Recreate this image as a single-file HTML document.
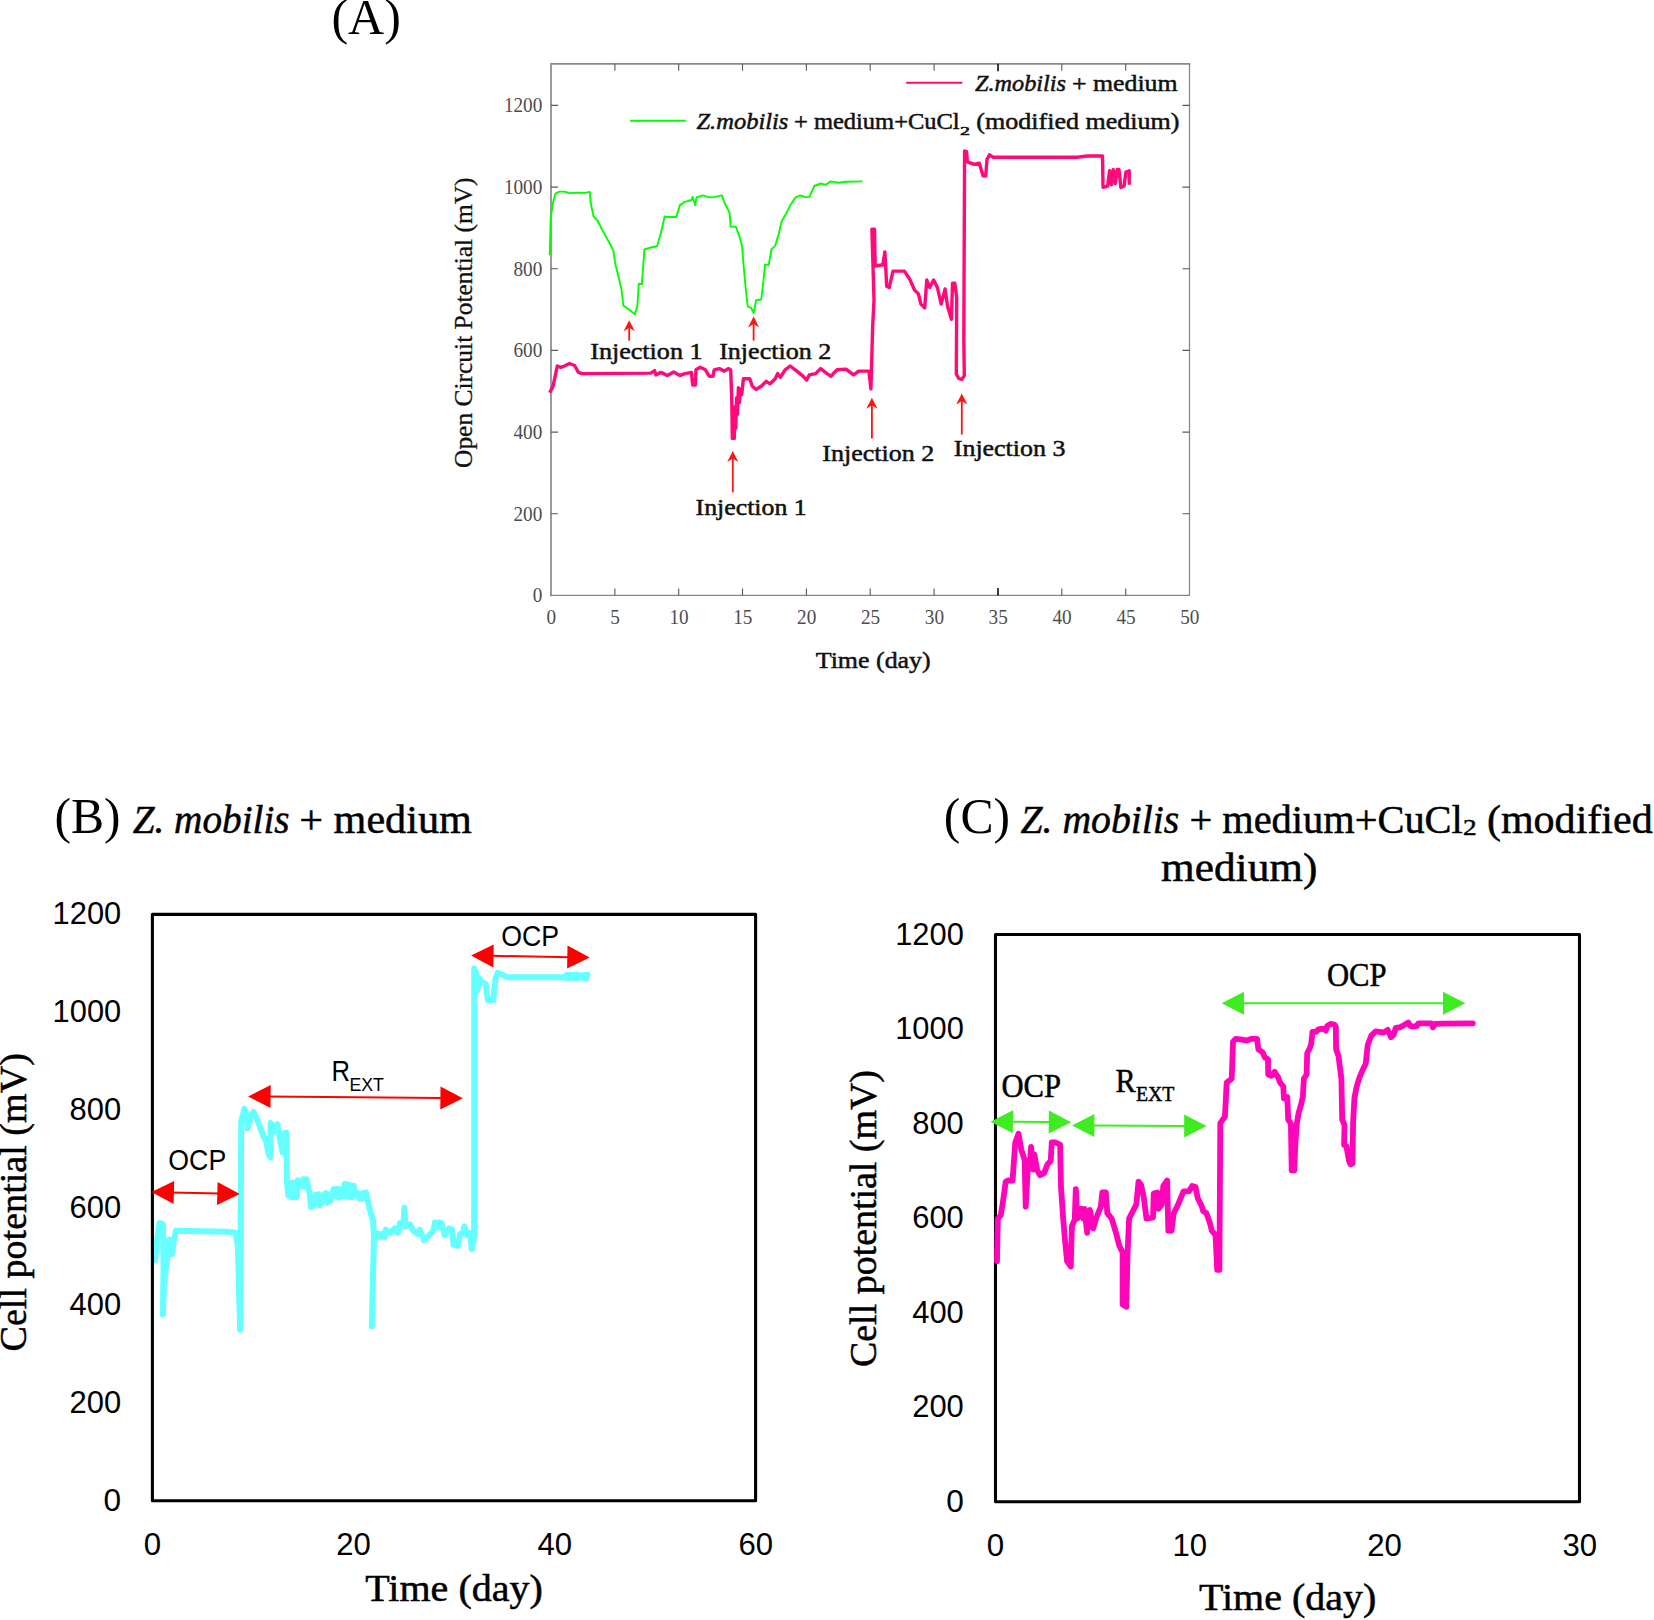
<!DOCTYPE html>
<html lang="en"><head><meta charset="utf-8"><title>Figure</title>
<style>html,body{margin:0;padding:0;background:#fff}svg{display:block}.ser{font-family:"Liberation Serif",serif}.k{stroke:#111;stroke-width:.5px}.k2{stroke:#000;stroke-width:.5px}.k3{stroke:#111;stroke-width:.3px}.san{font-family:"Liberation Sans",sans-serif}</style></head><body>
<svg width="1654" height="1620" viewBox="0 0 1654 1620">
<rect width="1654" height="1620" fill="#fff"/>
<g id="chartA">
<text class="ser" x="331.4" y="34.3" font-size="50" text-anchor="start" fill="#000">(A)</text>
<path d="M551.0,595.4 V63.8 H1189.5" fill="none" stroke="#8a8a8a" stroke-width="1.7" stroke-linecap="square"/>
<path d="M1189.5,63.8 V595.4 H551.0" fill="none" stroke="#868686" stroke-width="1.25" stroke-linecap="square"/>
<path d="M614.9,595.4 v-7 M614.9,63.8 v7 M678.7,595.4 v-7 M678.7,63.8 v7 M742.5,595.4 v-7 M742.5,63.8 v7 M806.4,595.4 v-7 M806.4,63.8 v7 M870.2,595.4 v-7 M870.2,63.8 v7 M934.1,595.4 v-7 M934.1,63.8 v7 M998.0,595.4 v-7 M998.0,63.8 v7 M1061.8,595.4 v-7 M1061.8,63.8 v7 M1125.7,595.4 v-7 M1125.7,63.8 v7 M551.0,513.7 h7 M1189.5,513.7 h-7 M551.0,432.1 h7 M1189.5,432.1 h-7 M551.0,350.4 h7 M1189.5,350.4 h-7 M551.0,268.7 h7 M1189.5,268.7 h-7 M551.0,187.1 h7 M1189.5,187.1 h-7 M551.0,105.4 h7 M1189.5,105.4 h-7" stroke="#5a5a5a" stroke-width="1.1" fill="none"/>
<path d="M998,595.4 v-7.5 M998,63.8 v7.5" stroke="#111" stroke-width="1.4" fill="none"/>
<text class="ser" x="551.3" y="623.7" font-size="22" text-anchor="middle" fill="#4d4d4d" textLength="9.6" lengthAdjust="spacingAndGlyphs">0</text>
<text class="ser" x="615.1" y="623.7" font-size="22" text-anchor="middle" fill="#4d4d4d" textLength="9.6" lengthAdjust="spacingAndGlyphs">5</text>
<text class="ser" x="679.0" y="623.7" font-size="22" text-anchor="middle" fill="#4d4d4d" textLength="19.2" lengthAdjust="spacingAndGlyphs">10</text>
<text class="ser" x="742.8" y="623.7" font-size="22" text-anchor="middle" fill="#4d4d4d" textLength="19.2" lengthAdjust="spacingAndGlyphs">15</text>
<text class="ser" x="806.7" y="623.7" font-size="22" text-anchor="middle" fill="#4d4d4d" textLength="19.2" lengthAdjust="spacingAndGlyphs">20</text>
<text class="ser" x="870.5" y="623.7" font-size="22" text-anchor="middle" fill="#4d4d4d" textLength="19.2" lengthAdjust="spacingAndGlyphs">25</text>
<text class="ser" x="934.4" y="623.7" font-size="22" text-anchor="middle" fill="#4d4d4d" textLength="19.2" lengthAdjust="spacingAndGlyphs">30</text>
<text class="ser" x="998.2" y="623.7" font-size="22" text-anchor="middle" fill="#4d4d4d" textLength="19.2" lengthAdjust="spacingAndGlyphs">35</text>
<text class="ser" x="1062.1" y="623.7" font-size="22" text-anchor="middle" fill="#4d4d4d" textLength="19.2" lengthAdjust="spacingAndGlyphs">40</text>
<text class="ser" x="1126.0" y="623.7" font-size="22" text-anchor="middle" fill="#4d4d4d" textLength="19.2" lengthAdjust="spacingAndGlyphs">45</text>
<text class="ser" x="1189.8" y="623.7" font-size="22" text-anchor="middle" fill="#4d4d4d" textLength="19.2" lengthAdjust="spacingAndGlyphs">50</text>
<text class="ser" x="542.3" y="602.3" font-size="22" text-anchor="end" fill="#4d4d4d" textLength="9.6" lengthAdjust="spacingAndGlyphs">0</text>
<text class="ser" x="542.3" y="520.6" font-size="22" text-anchor="end" fill="#4d4d4d" textLength="28.8" lengthAdjust="spacingAndGlyphs">200</text>
<text class="ser" x="542.3" y="439.0" font-size="22" text-anchor="end" fill="#4d4d4d" textLength="28.8" lengthAdjust="spacingAndGlyphs">400</text>
<text class="ser" x="542.3" y="357.3" font-size="22" text-anchor="end" fill="#4d4d4d" textLength="28.8" lengthAdjust="spacingAndGlyphs">600</text>
<text class="ser" x="542.3" y="275.6" font-size="22" text-anchor="end" fill="#4d4d4d" textLength="28.8" lengthAdjust="spacingAndGlyphs">800</text>
<text class="ser" x="542.3" y="194.0" font-size="22" text-anchor="end" fill="#4d4d4d" textLength="38.4" lengthAdjust="spacingAndGlyphs">1000</text>
<text class="ser" x="542.3" y="112.3" font-size="22" text-anchor="end" fill="#4d4d4d" textLength="38.4" lengthAdjust="spacingAndGlyphs">1200</text>
<text class="ser k" x="815.75" y="667.6" font-size="24" fill="#111" textLength="114.96" lengthAdjust="spacingAndGlyphs">Time (day)</text>
<text class="ser k3" transform="translate(471.5,468.0) rotate(-90)" font-size="26" fill="#111" textLength="290.6" lengthAdjust="spacingAndGlyphs">Open Circuit Potential (mV)</text>
<path d="M549.7,255.3 L550.7,217.8 L553.0,202.5 L555.5,193.6 L559.3,191.6 L564.4,191.6 L569.5,193.1 L577.1,192.6 L584.7,192.9 L589.8,191.9 L590.6,202.5 L593.6,216.5 L597.4,220.3 L602.5,230.4 L608.9,241.9 L613.4,250.8 L615.2,263.5 L619.0,278.7 L621.6,290.1 L623.3,305.4 L629.2,309.7 L634.8,314.2 L637.3,306.6 L638.8,283.8 L641.9,284.3 L644.4,249.5 L650.8,247.5 L657.1,246.2 L660.9,233.0 L664.7,216.5 L668.5,217.0 L676.2,217.0 L680.0,205.1 L685.0,201.8 L691.4,200.0 L692.7,196.9 L695.2,205.1 L696.5,197.4 L702.8,195.4 L709.2,197.4 L715.5,196.9 L721.9,195.4 L724.4,202.5 L729.5,212.7 L730.7,226.6 L735.8,226.6 L739.6,236.8 L742.2,247.0 L743.4,263.5 L746.0,291.4 L747.8,306.6 L751.1,307.9 L753.6,313.0 L756.1,300.3 L761.2,299.5 L763.0,285.0 L765.0,264.7 L768.8,264.7 L771.4,249.5 L775.2,245.7 L779.0,233.0 L781.5,221.6 L786.6,212.7 L790.4,205.1 L795.5,197.4 L800.6,195.4 L805.7,197.4 L809.5,196.9 L814.3,186.0 L820.6,183.5 L825.7,184.7 L830.8,181.4 L838.4,182.7 L846.0,181.7 L862.5,181.4" fill="none" stroke="#00ff00" stroke-width="1.9" stroke-linejoin="round"/>
<path d="M549.7,392.7 L553.0,386.3 L557.3,366.0 L560.6,367.3 L564.4,366.0 L569.5,363.5 L574.6,365.5 L578.4,372.4 L582.2,373.6 L650.8,373.1 L654.6,370.6 L655.8,374.9 L660.9,372.4 L667.3,375.4 L673.6,371.9 L680.0,375.4 L685.0,373.6 L691.4,372.4 L692.7,385.1 L695.2,385.1 L696.0,369.8 L700.3,367.3 L705.4,369.8 L709.2,376.2 L713.0,376.2 L714.2,369.8 L719.3,368.6 L724.4,371.1 L728.2,368.6 L730.7,369.8 L731.8,401.6 L732.3,438.4 L734.3,438.4 L735.1,406.7 L735.8,428.2 L736.6,397.8 L737.4,414.3 L738.4,387.6 L739.4,402.8 L740.7,388.9 L741.7,394.5 L743.4,378.7 L749.8,378.7 L752.3,386.3 L756.1,389.4 L761.2,386.3 L766.3,381.3 L770.1,383.8 L775.2,378.7 L777.7,373.6 L780.3,377.4 L785.1,369.8 L790.2,366.0 L795.2,369.8 L801.6,374.9 L806.7,380.0 L809.2,374.9 L815.6,373.6 L820.6,368.6 L827.0,373.6 L830.8,376.2 L837.1,369.8 L846.0,369.1 L853.6,374.9 L858.7,371.1 L868.9,371.1 L870.9,388.9 L872.7,325.4 L874.0,300.0 L871.9,229.2 L874.5,229.2 L875.2,266.0 L882.8,264.7 L884.9,252.0 L886.7,286.3 L889.2,287.6 L893.0,271.1 L904.4,271.1 L909.5,278.7 L914.6,290.1 L918.4,293.9 L920.9,304.1 L924.7,307.9 L926.8,280.0 L929.8,287.6 L933.6,280.0 L937.4,287.6 L941.2,304.1 L945.1,288.9 L947.6,306.6 L951.4,319.3 L952.5,283.3 L954.8,283.3 L956.7,297.8 L956.5,340.0 L956.3,374.0 L958.8,378.5 L961.6,379.4 L964.3,375.8 L963.8,339.6 L964.6,151.0 L966.6,151.7 L967.4,161.9 L974.3,164.4 L979.3,163.2 L983.1,175.9 L985.7,175.9 L987.0,159.3 L989.5,154.8 L993.3,157.3 L1077.1,157.3 L1087.3,156.0 L1102.5,156.0 L1103.0,187.3 L1107.6,186.0 L1109.6,170.8 L1111.4,184.7 L1113.2,169.5 L1115.2,183.5 L1117.2,169.5 L1119.0,169.5 L1120.8,187.3 L1124.1,186.0 L1125.9,172.0 L1129.2,170.8 L1129.2,184.7" fill="none" stroke="#ff0a78" stroke-width="3.4" stroke-linejoin="round"/>
<path d="M906.2,82.7 H962.3" stroke="#ff0a78" stroke-width="2"/>
<path d="M630,120.8 H685.8" stroke="#00ff00" stroke-width="2"/>
<text class="ser k" x="975.0" y="91.0" font-size="23" fill="#111" textLength="90.96" lengthAdjust="spacingAndGlyphs" font-style="italic">Z.mobilis</text>
<text class="ser k" x="1071.91" y="91.0" font-size="23" fill="#111" textLength="105.72" lengthAdjust="spacingAndGlyphs">+ medium</text>
<text class="ser k" x="696.49" y="129.4" font-size="23" fill="#111" textLength="91.87" lengthAdjust="spacingAndGlyphs" font-style="italic">Z.mobilis</text>
<text class="ser k" x="793.98" y="129.4" font-size="23" fill="#111" textLength="165.71" lengthAdjust="spacingAndGlyphs">+ medium+CuCl</text>
<text class="ser k" x="960.1" y="135.2" font-size="12.5" fill="#111" textLength="10.0" lengthAdjust="spacingAndGlyphs">2</text>
<text class="ser k" x="976.33" y="129.4" font-size="23" fill="#111" textLength="203.21" lengthAdjust="spacingAndGlyphs">(modified medium)</text>
<text class="ser k" x="590.19" y="358.9" font-size="23" fill="#111" textLength="112.36" lengthAdjust="spacingAndGlyphs">Injection 1</text>
<text class="ser k" x="719.19" y="358.9" font-size="23" fill="#111" textLength="112.02" lengthAdjust="spacingAndGlyphs">Injection 2</text>
<text class="ser k" x="695.6" y="515.3" font-size="23" fill="#111" textLength="111.13" lengthAdjust="spacingAndGlyphs">Injection 1</text>
<text class="ser k" x="822.29" y="461.3" font-size="23" fill="#111" textLength="111.92" lengthAdjust="spacingAndGlyphs">Injection 2</text>
<text class="ser k" x="953.79" y="456.2" font-size="23" fill="#111" textLength="111.63" lengthAdjust="spacingAndGlyphs">Injection 3</text>
<path d="M629.2,340.6 V325.3" stroke="#ff1414" stroke-width="1.8" fill="none"/>
<path d="M629.2,320.3 L634.8000000000001,331.3 L629.2,327.8 L623.6,331.3 Z" fill="#ff1414"/>
<path d="M753.6,340.6 V321.5" stroke="#ff1414" stroke-width="1.8" fill="none"/>
<path d="M753.6,316.5 L759.2,327.5 L753.6,324.0 L748.0,327.5 Z" fill="#ff1414"/>
<path d="M732.8,492.3 V455.9" stroke="#ff1414" stroke-width="1.8" fill="none"/>
<path d="M732.8,450.9 L738.4,461.9 L732.8,458.4 L727.1999999999999,461.9 Z" fill="#ff1414"/>
<path d="M871.9,438.4 V402.8" stroke="#ff1414" stroke-width="1.8" fill="none"/>
<path d="M871.9,397.8 L877.5,408.8 L871.9,405.3 L866.3,408.8 Z" fill="#ff1414"/>
<path d="M961.8,434.6 V398.5" stroke="#ff1414" stroke-width="1.8" fill="none"/>
<path d="M961.8,393.5 L967.4,404.5 L961.8,401.0 L956.1999999999999,404.5 Z" fill="#ff1414"/>
</g>
<g id="chartB">
<text class="ser" x="54.47" y="832.8" font-size="50" fill="#000" textLength="66.06" lengthAdjust="spacingAndGlyphs">(B)</text>
<text class="ser k2" x="132.71" y="832.8" font-size="40" fill="#000" textLength="156.91" lengthAdjust="spacingAndGlyphs" font-style="italic">Z. mobilis</text>
<text class="ser k2" x="299.29" y="832.8" font-size="40" fill="#000" textLength="172.5" lengthAdjust="spacingAndGlyphs">+ medium</text>
<path d="M155.2,1260.0 L156.8,1241.5 L159.6,1223.0 L162.9,1224.1 L163.5,1267.7 L162.9,1314.4 L163.9,1285.1 L167.2,1258.9 L169.4,1239.4 L171.6,1254.6 L173.7,1241.5 L175.9,1230.7 L227.1,1231.7 L235.8,1232.8 L237.9,1245.9 L240.1,1329.7 L240.6,1245.9 L241.2,1121.8 L244.5,1108.8 L246.7,1115.3 L247.7,1128.4 L251.0,1115.3 L253.2,1112.0 L256.4,1117.5 L259.7,1126.2 L263.0,1134.9 L266.2,1141.4 L268.4,1153.4 L270.6,1157.7 L270.6,1122.9 L273.9,1131.6 L277.1,1124.0 L280.4,1141.4 L282.6,1152.3 L283.7,1133.8 L286.3,1132.7 L286.9,1180.6 L287.1,1183.6 L288.3,1195.1 L289.5,1184.4 L290.9,1197.3 L292.4,1182.5 L293.9,1197.3 L295.0,1184.0 L296.8,1197.1 L297.6,1180.2 L299.5,1186.3 L300.9,1181.0 L302.1,1185.7 L303.4,1179.2 L304.6,1186.9 L306.4,1179.2 L308.0,1186.2 L309.8,1195.1 L310.9,1206.9 L312.1,1195.6 L313.6,1206.1 L315.2,1194.8 L316.5,1204.4 L318.3,1194.1 L319.8,1205.3 L321.7,1195.8 L322.8,1195.1 L324.0,1201.9 L325.8,1193.0 L327.3,1202.9 L329.0,1194.6 L330.5,1200.7 L331.9,1194.4 L333.7,1189.1 L335.2,1195.8 L337.1,1188.8 L338.8,1197.8 L340.5,1189.2 L342.5,1195.9 L343.8,1188.6 L344.6,1183.9 L346.1,1197.0 L347.3,1184.1 L349.0,1197.1 L350.3,1185.2 L352.2,1197.3 L353.7,1185.7 L355.5,1194.8 L357.7,1193.0 L359.1,1198.5 L361.0,1194.1 L362.2,1198.8 L363.5,1192.9 L365.0,1198.1 L366.3,1192.6 L369.6,1208.9 L372.9,1219.8 L374.0,1235.0 L371.8,1326.4 L374.0,1237.2 L375.1,1233.3 L376.4,1236.5 L377.9,1233.4 L379.3,1236.8 L380.2,1233.9 L381.8,1236.6 L383.3,1233.3 L384.5,1237.5 L385.9,1229.6 L390.3,1232.8 L394.7,1228.5 L397.9,1232.8 L400.1,1223.0 L403.4,1226.3 L404.4,1207.8 L405.5,1226.3 L409.9,1224.1 L413.2,1230.7 L417.5,1233.9 L419.7,1229.6 L424.0,1240.4 L429.5,1235.0 L433.8,1229.6 L434.9,1222.5 L435.9,1227.1 L436.9,1222.8 L437.9,1227.4 L438.9,1222.5 L440.1,1227.4 L441.7,1223.2 L442.7,1227.1 L444.7,1235.0 L449.1,1228.5 L452.3,1229.6 L453.4,1244.8 L453.9,1241.9 L454.9,1245.0 L456.6,1242.0 L457.9,1245.8 L458.8,1241.9 L460.0,1233.9 L463.2,1232.8 L464.3,1226.3 L466.5,1235.0 L469.7,1232.8 L471.9,1249.2 L474.1,1237.2 L474.2,1183.0 L474.2,968.6 L475.9,971.8 L477.0,991.4 L479.2,978.4 L482.4,982.7 L485.7,983.8 L487.9,1000.1 L493.3,1000.1 L495.5,978.4 L497.7,972.9 L503.1,975.1 L507.5,977.3 L565.2,977.3 L566.2,975.2 L567.3,978.3 L568.9,975.0 L570.0,977.8 L570.9,975.0 L572.6,977.5 L574.0,974.7 L575.2,978.2 L576.8,975.0 L578.3,978.0 L579.4,975.2 L581.1,977.5 L582.6,975.2 L584.1,978.1 L585.4,974.8 L586.4,978.3 L587.5,974.7" fill="none" stroke="#66ffff" stroke-width="6" stroke-linejoin="round" stroke-linecap="round"/>
<rect x="152.4" y="914.4" width="603.2" height="586.4" fill="none" stroke="#000" stroke-width="3.1" stroke-linejoin="round"/>
<text class="san" x="121.2" y="1510.8" font-size="30.5" text-anchor="end" fill="#000" textLength="17.6" lengthAdjust="spacingAndGlyphs">0</text>
<text class="san" x="121.2" y="1413.1" font-size="30.5" text-anchor="end" fill="#000" textLength="51.6" lengthAdjust="spacingAndGlyphs">200</text>
<text class="san" x="121.2" y="1315.3" font-size="30.5" text-anchor="end" fill="#000" textLength="51.6" lengthAdjust="spacingAndGlyphs">400</text>
<text class="san" x="121.2" y="1217.6" font-size="30.5" text-anchor="end" fill="#000" textLength="51.6" lengthAdjust="spacingAndGlyphs">600</text>
<text class="san" x="121.2" y="1119.9" font-size="30.5" text-anchor="end" fill="#000" textLength="51.6" lengthAdjust="spacingAndGlyphs">800</text>
<text class="san" x="121.2" y="1022.1" font-size="30.5" text-anchor="end" fill="#000" textLength="68.6" lengthAdjust="spacingAndGlyphs">1000</text>
<text class="san" x="121.2" y="924.4" font-size="30.5" text-anchor="end" fill="#000" textLength="68.6" lengthAdjust="spacingAndGlyphs">1200</text>
<text class="san" x="152.4" y="1554.6" font-size="30.5" text-anchor="middle" fill="#000" textLength="17.4" lengthAdjust="spacingAndGlyphs">0</text>
<text class="san" x="353.6" y="1554.6" font-size="30.5" text-anchor="middle" fill="#000" textLength="34.6" lengthAdjust="spacingAndGlyphs">20</text>
<text class="san" x="554.8" y="1554.6" font-size="30.5" text-anchor="middle" fill="#000" textLength="34.6" lengthAdjust="spacingAndGlyphs">40</text>
<text class="san" x="755.8" y="1554.6" font-size="30.5" text-anchor="middle" fill="#000" textLength="34.6" lengthAdjust="spacingAndGlyphs">60</text>
<text class="ser k2" x="365.3" y="1600.8" font-size="37" fill="#000" textLength="177.61" lengthAdjust="spacingAndGlyphs">Time (day)</text>
<text class="ser k2" transform="translate(26.2,1351.5) rotate(-90)" font-size="37" textLength="298.4" lengthAdjust="spacingAndGlyphs">Cell potential (mV)</text>
<path d="M171.7,1192.4 L219.5,1193.6" stroke="#fe0000" stroke-width="2" fill="none"/>
<path d="M151.5,1191.9 L173.6,1204.0 L174.2,1181.0 Z" fill="#fe0000"/>
<path d="M239.7,1194.1 L217.0,1205.0 L217.6,1182.0 Z" fill="#fe0000"/>
<path d="M268.4,1096.6 L442.6,1098.1" stroke="#fe0000" stroke-width="2" fill="none"/>
<path d="M248.2,1096.4 L270.5,1108.1 L270.7,1085.1 Z" fill="#fe0000"/>
<path d="M462.8,1098.3 L440.3,1109.6 L440.5,1086.6 Z" fill="#fe0000"/>
<path d="M491.3,955.8 L569.5,957.2" stroke="#fe0000" stroke-width="2" fill="none"/>
<path d="M471.1,955.5 L493.3,967.4 L493.7,944.4 Z" fill="#fe0000"/>
<path d="M589.7,957.5 L567.1,968.6 L567.5,945.6 Z" fill="#fe0000"/>
<text class="san" x="168.33" y="1169.6" font-size="30" fill="#000" textLength="57.86" lengthAdjust="spacingAndGlyphs">OCP</text>
<text class="san" x="501.23" y="946.4" font-size="30" fill="#000" textLength="57.86" lengthAdjust="spacingAndGlyphs">OCP</text>
<text class="san" x="331.48" y="1081.3" font-size="29" fill="#000" textLength="18.53" lengthAdjust="spacingAndGlyphs">R</text>
<text class="san" x="349.54" y="1090.5" font-size="19" fill="#000" textLength="34.35" lengthAdjust="spacingAndGlyphs">EXT</text>
</g>
<g id="chartC">
<text class="ser" x="943.87" y="832.5" font-size="50" fill="#000" textLength="66.17" lengthAdjust="spacingAndGlyphs">(C)</text>
<text class="ser k2" x="1020.5" y="832.5" font-size="40" fill="#000" textLength="158.73" lengthAdjust="spacingAndGlyphs" font-style="italic">Z. mobilis</text>
<text class="ser k2" x="1189.38" y="832.5" font-size="40" fill="#000" textLength="273.42" lengthAdjust="spacingAndGlyphs">+ medium+CuCl</text>
<text class="ser k2" x="1462.97" y="834.6" font-size="24" fill="#000" textLength="13.62" lengthAdjust="spacingAndGlyphs">2</text>
<text class="ser k2" x="1486.91" y="832.5" font-size="40" fill="#000" textLength="165.76" lengthAdjust="spacingAndGlyphs">(modified</text>
<text class="ser k2" x="1161.13" y="881.2" font-size="40" fill="#000" textLength="156.22" lengthAdjust="spacingAndGlyphs">medium)</text>
<rect x="995.5" y="934.5" width="584.0" height="567.2" fill="none" stroke="#000" stroke-width="3.1" stroke-linejoin="round"/>
<path d="M997.0,1261.1 L997.8,1218.6 L1000.7,1215.4 L1002.9,1202.3 L1005.7,1181.6 L1008.3,1180.5 L1012.6,1180.5 L1014.4,1154.4 L1015.3,1142.4 L1018.5,1133.7 L1021.4,1150.1 L1024.6,1159.9 L1025.7,1206.7 L1027.9,1167.5 L1029.6,1165.3 L1031.1,1146.8 L1033.3,1169.6 L1034.4,1154.4 L1037.0,1169.6 L1039.9,1175.1 L1044.2,1172.9 L1047.5,1164.2 L1050.7,1160.9 L1051.8,1142.4 L1055.1,1142.4 L1060.1,1144.6 L1061.0,1187.1 L1063.1,1217.5 L1064.9,1239.3 L1067.1,1261.1 L1070.8,1266.5 L1071.9,1226.2 L1074.7,1219.7 L1075.8,1189.2 L1077.5,1218.6 L1081.2,1208.8 L1083.4,1218.6 L1084.5,1208.8 L1087.1,1232.8 L1089.9,1209.9 L1093.2,1228.4 L1096.4,1217.5 L1100.8,1206.7 L1102.3,1192.5 L1105.8,1192.5 L1107.3,1213.2 L1111.7,1218.6 L1116.0,1232.8 L1119.3,1245.8 L1122.6,1252.4 L1122.6,1304.6 L1126.3,1306.8 L1127.6,1252.4 L1129.1,1218.6 L1132.4,1212.1 L1136.3,1204.5 L1138.5,1181.6 L1141.1,1184.9 L1143.7,1196.9 L1146.5,1218.6 L1153.0,1217.5 L1153.7,1193.6 L1157.4,1192.5 L1158.5,1208.8 L1161.7,1204.5 L1163.3,1186.0 L1167.2,1180.5 L1168.3,1230.6 L1171.5,1230.6 L1173.7,1213.2 L1178.1,1204.5 L1183.5,1191.4 L1188.9,1191.4 L1192.2,1186.0 L1195.5,1187.1 L1197.7,1197.9 L1202.0,1206.7 L1203.1,1211.0 L1206.4,1213.2 L1209.6,1221.9 L1211.8,1230.6 L1215.5,1234.9 L1217.2,1269.8 L1219.4,1269.8 L1220.3,1123.1 L1224.9,1116.8 L1226.7,1082.5 L1231.7,1078.7 L1233.0,1041.9 L1235.6,1038.8 L1240.6,1039.3 L1247.0,1040.6 L1250.8,1038.8 L1257.1,1038.8 L1258.4,1049.5 L1260.0,1050.5 L1262.7,1052.5 L1264.7,1057.2 L1268.0,1059.2 L1268.2,1074.5 L1271.3,1075.8 L1274.6,1071.8 L1278.0,1077.1 L1280.0,1082.5 L1283.3,1086.5 L1283.9,1098.4 L1287.3,1097.1 L1288.2,1119.7 L1290.9,1123.7 L1291.7,1170.3 L1294.3,1170.3 L1295.2,1146.3 L1296.6,1125.0 L1298.6,1113.1 L1300.6,1106.4 L1302.8,1097.1 L1303.9,1078.5 L1306.6,1074.5 L1307.2,1053.2 L1309.9,1047.9 L1311.2,1043.9 L1312.5,1031.9 L1315.9,1031.9 L1318.5,1029.3 L1322.5,1028.6 L1325.8,1030.6 L1327.2,1025.9 L1330.5,1023.9 L1334.5,1024.6 L1335.8,1026.6 L1336.1,1049.2 L1338.5,1055.9 L1339.8,1066.5 L1341.4,1078.5 L1342.2,1119.7 L1344.5,1125.0 L1344.1,1145.0 L1346.5,1146.3 L1347.8,1154.3 L1349.1,1160.9 L1350.4,1164.3 L1352.4,1163.6 L1353.1,1122.4 L1354.4,1098.4 L1356.4,1087.8 L1359.1,1078.5 L1362.4,1070.5 L1365.7,1063.8 L1367.7,1045.2 L1371.1,1035.9 L1375.7,1031.3 L1379.7,1031.9 L1383.7,1032.6 L1387.7,1029.9 L1391.0,1037.2 L1393.7,1034.6 L1395.7,1027.9 L1399.7,1027.3 L1403.7,1025.3 L1408.3,1022.6 L1410.3,1025.9 L1413.0,1026.6 L1417.0,1025.9 L1418.3,1023.3 L1431.6,1023.3 L1432.9,1027.3 L1434.9,1023.9 L1443.6,1023.7 L1472.8,1023.3" fill="none" stroke="#ff05b9" stroke-width="5.8" stroke-linejoin="round" stroke-linecap="round"/>
<text class="san" x="963.8" y="1511.7" font-size="30.5" text-anchor="end" fill="#000" textLength="17.6" lengthAdjust="spacingAndGlyphs">0</text>
<text class="san" x="963.8" y="1417.2" font-size="30.5" text-anchor="end" fill="#000" textLength="51.6" lengthAdjust="spacingAndGlyphs">200</text>
<text class="san" x="963.8" y="1322.6" font-size="30.5" text-anchor="end" fill="#000" textLength="51.6" lengthAdjust="spacingAndGlyphs">400</text>
<text class="san" x="963.8" y="1228.1" font-size="30.5" text-anchor="end" fill="#000" textLength="51.6" lengthAdjust="spacingAndGlyphs">600</text>
<text class="san" x="963.8" y="1133.6" font-size="30.5" text-anchor="end" fill="#000" textLength="51.6" lengthAdjust="spacingAndGlyphs">800</text>
<text class="san" x="963.8" y="1039.0" font-size="30.5" text-anchor="end" fill="#000" textLength="68.6" lengthAdjust="spacingAndGlyphs">1000</text>
<text class="san" x="963.8" y="944.5" font-size="30.5" text-anchor="end" fill="#000" textLength="68.6" lengthAdjust="spacingAndGlyphs">1200</text>
<text class="san" x="995.4" y="1556.4" font-size="30.5" text-anchor="middle" fill="#000" textLength="17.4" lengthAdjust="spacingAndGlyphs">0</text>
<text class="san" x="1189.7" y="1556.4" font-size="30.5" text-anchor="middle" fill="#000" textLength="34.6" lengthAdjust="spacingAndGlyphs">10</text>
<text class="san" x="1384.5" y="1556.4" font-size="30.5" text-anchor="middle" fill="#000" textLength="34.6" lengthAdjust="spacingAndGlyphs">20</text>
<text class="san" x="1579.8" y="1556.4" font-size="30.5" text-anchor="middle" fill="#000" textLength="34.6" lengthAdjust="spacingAndGlyphs">30</text>
<text class="ser k2" x="1199.0" y="1610.3" font-size="37" fill="#000" textLength="177.2" lengthAdjust="spacingAndGlyphs">Time (day)</text>
<text class="ser k2" transform="translate(875.7,1367) rotate(-90)" font-size="37" textLength="297" lengthAdjust="spacingAndGlyphs">Cell potential (mV)</text>
<path d="M1010.7,1121.8 L1051.0,1122.1" stroke="#3fec21" stroke-width="2" fill="none"/>
<path d="M990.5,1121.7 L1012.8,1133.3 L1013.0,1110.3 Z" fill="#3fec21"/>
<path d="M1071.2,1122.2 L1048.7,1133.6 L1048.9,1110.6 Z" fill="#3fec21"/>
<path d="M1092.2,1125.6 L1186.4,1125.9" stroke="#3fec21" stroke-width="2" fill="none"/>
<path d="M1072.0,1125.5 L1094.4,1137.1 L1094.4,1114.1 Z" fill="#3fec21"/>
<path d="M1206.6,1126.0 L1184.2,1137.4 L1184.2,1114.4 Z" fill="#3fec21"/>
<path d="M1241.8,1003.3 L1445.2,1003.3" stroke="#3fec21" stroke-width="2" fill="none"/>
<path d="M1221.6,1003.3 L1244.0,1014.8 L1244.0,991.8 Z" fill="#3fec21"/>
<path d="M1465.4,1003.3 L1443.0,1014.8 L1443.0,991.8 Z" fill="#3fec21"/>
<text class="ser k2" x="1001.48" y="1096.8" font-size="33" fill="#000" textLength="59.56" lengthAdjust="spacingAndGlyphs">OCP</text>
<text class="ser k2" x="1326.97" y="986" font-size="33" fill="#000" textLength="59.66" lengthAdjust="spacingAndGlyphs">OCP</text>
<text class="ser k2" x="1115.49" y="1092.2" font-size="33" fill="#000" textLength="20.17" lengthAdjust="spacingAndGlyphs">R</text>
<text class="ser k2" x="1135.91" y="1100.6" font-size="21.5" fill="#000" textLength="38.52" lengthAdjust="spacingAndGlyphs">EXT</text>
</g>
</svg></body></html>
